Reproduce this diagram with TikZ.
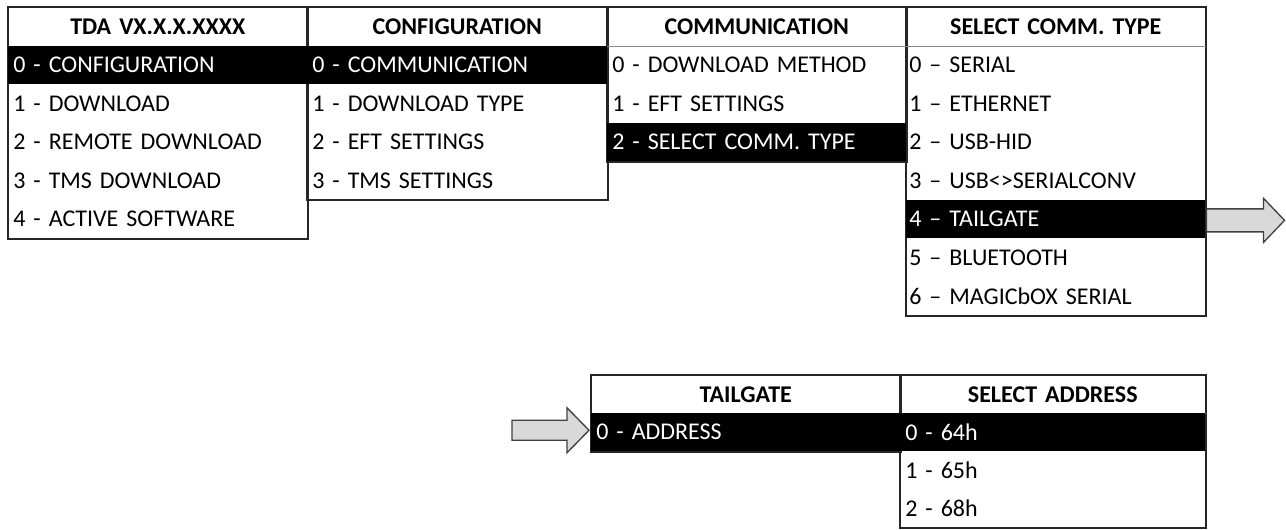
\documentclass[tikz,border=0pt]{standalone}
\usepackage{fontspec}
\setmainfont[WordSpace=0.8]{Carlito}
\usetikzlibrary{backgrounds}
\frenchspacing
\newcommand{\itemfont}{\fontsize{18}{21}\selectfont}
\newcommand{\headfont}{\fontsize{18}{21}\selectfont\bfseries}
\begin{document}
\begin{tikzpicture}[x=0.75pt, y=-0.75pt,
  item/.style={anchor=north west, inner xsep=3.75pt, inner ysep=0pt, align=left, font=\itemfont, text=black},
  head/.style={item, align=center, font=\headfont},
  sel/.style={fill=black, text=white},
  toprow/.style={minimum height=28.875pt},
  botrow/.style={minimum height=28.5pt},
  wa/.style={text width=216.75pt},
  wb/.style={text width=217.5pt},
  wc/.style={text width=216.75pt},
  wd/.style={text width=219.75pt, inner xsep=2.25pt},
  we/.style={text width=224.25pt},
  wf/.style={text width=221.25pt},
  frame/.style={draw=black!85, line width=1.5pt},
  rule/.style={draw=black!45, line width=0.8pt},
  blockarrow/.style={draw=black!75, fill=gray!30, line width=1pt, line join=miter}]
\useasboundingbox (0,0) rectangle (1286,529);

% main menu
\node[head, wa, toprow] (m1h) at (8,7) {TDA VX.X.X.XXXX};
\node[item, wa, toprow, sel] (m1r0) at (8,45.5) {0 - CONFIGURATION};
\node[item, wa, toprow] (m1r1) at (8,84) {1 - DOWNLOAD};
\node[item, wa, toprow] (m1r2) at (8,122.5) {2 - REMOTE DOWNLOAD};
\node[item, wa, toprow] (m1r3) at (8,161) {3 - TMS DOWNLOAD};
\node[item, wa, toprow] (m1r4) at (8,199.5) {4 - ACTIVE SOFTWARE};

% configuration menu
\node[head, wb, toprow] (m2h) at (307,7) {CONFIGURATION};
\node[item, wb, toprow, sel] (m2r0) at (307,45.5) {0 - COMMUNICATION};
\node[item, wb, toprow] (m2r1) at (307,84) {1 - DOWNLOAD TYPE};
\node[item, wb, toprow] (m2r2) at (307,122.5) {2 - EFT SETTINGS};
\node[item, wb, toprow] (m2r3) at (307,161) {3 - TMS SETTINGS};

% communication menu
\node[head, wc, toprow] (m3h) at (607,7) {COMMUNICATION};
\node[item, wc, toprow] (m3r0) at (607,45.5) {0 - DOWNLOAD METHOD};
\node[item, wc, toprow] (m3r1) at (607,84) {1 - EFT SETTINGS};
\node[item, wc, toprow, sel] (m3r2) at (607,122.5) {2 - SELECT COMM. TYPE};

% communication type menu
\node[head, wd, toprow] (m4h) at (906,7) {SELECT COMM. TYPE};
\node[item, wd, toprow] (m4r0) at (906,45.5) {0 – SERIAL};
\node[item, wd, toprow] (m4r1) at (906,84) {1 – ETHERNET};
\node[item, wd, toprow] (m4r2) at (906,122.5) {2 – USB-HID};
\node[item, wd, toprow] (m4r3) at (906,161) {3 – USB<>SERIALCONV};
\node[item, wd, toprow, sel] (m4r4) at (906,199.5) {4 – TAILGATE};
\node[item, wd, toprow] (m4r5) at (906,238) {5 – BLUETOOTH};
\node[item, wd, toprow] (m4r6) at (906,276.5) {6 – MAGICbOX SERIAL};

% tailgate menu
\node[head, we, botrow] (m5h) at (591,375) {TAILGATE};
\node[item, we, botrow, sel] (m5r0) at (591,413) {0 - ADDRESS};

% address menu
\node[head, wf, botrow] (m6h) at (900,375) {SELECT ADDRESS};
\node[item, wf, botrow, sel] (m6r0) at (900,413) {0 - 64h};
\node[item, wf, botrow] (m6r1) at (900,451) {1 - 65h};
\node[item, wf, botrow] (m6r2) at (900,489) {2 - 68h};

% menu frames and header rules
\begin{scope}[on background layer]
  \draw[frame] (m1h.north west) rectangle (m1r4.south east);
  \draw[frame] (m2h.north west) rectangle (m2r3.south east);
  \draw[frame] (m3h.north west) rectangle (m3r2.south east);
  \draw[frame] (m4h.north west) rectangle (m4r6.south east);
  \draw[frame] (m5h.north west) rectangle (m5r0.south east);
  \draw[frame] (m6h.north west) rectangle (m6r2.south east);
  \draw[rule] (m1h.south west) -- (m1h.south east);
  \draw[rule] (m2h.south west) -- (m2h.south east);
  \draw[rule] (m3h.south west) -- (m3h.south east);
  \draw[rule] (m4h.south west) -- (m4h.south east);
  \draw[rule] (m5h.south west) -- (m5h.south east);
  \draw[rule] (m6h.south west) -- (m6h.south east);
\end{scope}

% block arrows linking the tailgate entry to its sub-menu
\coordinate (outtail) at ([yshift=-1pt]m4r4.east);
\draw[blockarrow] (outtail) +(1,-11.5) -- +(58,-11.5) -- +(58,-22) -- +(79,0)
  -- +(58,22) -- +(58,11.5) -- +(1,11.5) -- cycle;
\coordinate (intip) at ([xshift=-1.5pt, yshift=1.5pt]m5r0.west);
\draw[blockarrow] (intip) -- +(-22,-22.5) -- +(-22,-10) -- +(-77,-10)
  -- +(-77,10) -- +(-22,10) -- +(-22,22.5) -- cycle;
\end{tikzpicture}
\end{document}
